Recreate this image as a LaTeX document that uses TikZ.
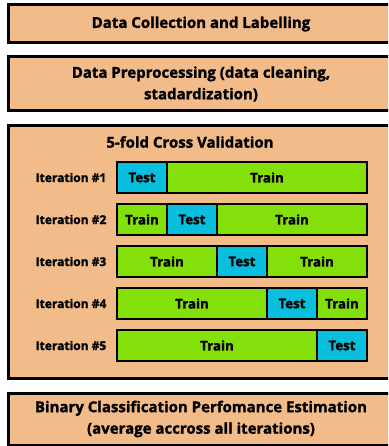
\documentclass[tikz,border=0pt]{standalone}
\usepackage{fontspec}
\setmainfont{Open Sans}[BoldFeatures={FakeBold=1.5}]
\definecolor{stagefill}{HTML}{F1BC8A}
\definecolor{testfill}{HTML}{0ABFDE}
\definecolor{trainfill}{HTML}{84E00A}
\begin{document}
\begin{tikzpicture}[
x=1pt, y=-1pt,
stage/.style={
draw,
line width=3pt,
fill=stagefill,
align=center,
minimum width=386pt,
font=\fontsize{15}{21.5}\selectfont\bfseries
},
cvtitle/.style={
font=\fontsize{15}{18}\selectfont\bfseries
},
itlabel/.style={
font=\fontsize{12}{14}\selectfont\bfseries
},
cell/.style={
draw,
line width=2pt,
outer sep=0pt,
minimum height=31pt,
inner sep=0pt,
font=\fontsize{13.3}{16}\selectfont\bfseries
},
train/.style={cell, fill=trainfill},
test/.style={cell, fill=testfill, minimum width=50pt}
]

\clip (0,0) rectangle (388,446);

\node[stage, minimum height=38pt] (collect) at (201,24)
{Data Collection and Labelling};

\node[stage, minimum height=54pt] (prep) at (201,84)
{Data Preprocessing (data cleaning,\\stadardization)};

\node[stage, minimum height=252pt] (cv) at (201,252) {};

\node[cvtitle] (cvname) at (190,142)
{5-fold Cross Validation};

\foreach \i in {1,...,5} {
\pgfmathsetmacro\rowy{177.5+42*(\i-1)}
\pgfmathsetmacro\wa{50*(\i-1)}
\pgfmathsetmacro\wb{50*(5-\i)}
\node[itlabel] (it\i) at (71,\rowy) {Iteration \#\i};
\ifnum\i>1
\node[train, minimum width=\wa pt] (before\i) at ({117+\wa/2},\rowy) {Train};
\fi
\node[test] (test\i) at ({142+50*(\i-1)},\rowy) {Test};
\ifnum\i<5
\node[train, minimum width=\wb pt] (after\i) at ({367-\wb/2},\rowy) {Train};
\fi
}

\node[stage, minimum height=52pt] (estim) at (201,419)
{Binary Classification Perfomance Estimation\\(average accross all iterations)};

\end{tikzpicture}
\end{document}
